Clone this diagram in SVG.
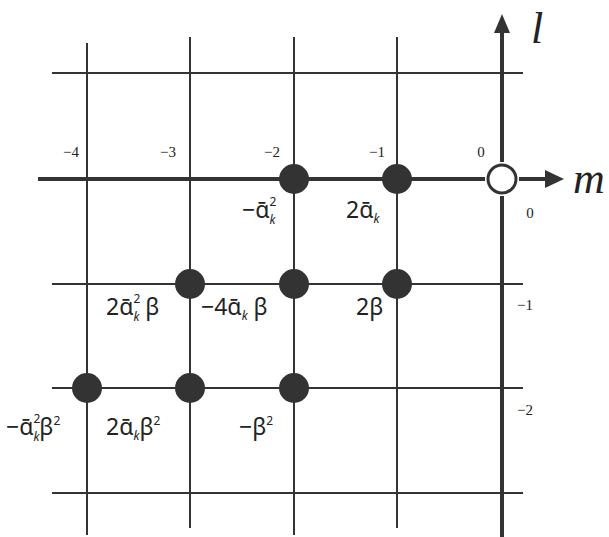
<svg xmlns="http://www.w3.org/2000/svg" width="609" height="537" viewBox="0 0 609 537">
<style>
.g{stroke:#333;stroke-width:2;fill:none}
.ax{stroke:#333;stroke-width:4;fill:none}
.dot{fill:#333}
.num{font-family:"Liberation Serif",serif;font-size:15px;fill:#222}
.lab{font-family:"Noto Sans","DejaVu Sans",sans-serif;font-size:23px;fill:#222}
.s{font-size:12px}
.k{font-size:12px;font-style:italic}
.ax-lab{font-family:"Liberation Serif",serif;font-style:italic;font-size:44px;fill:#222}
</style>
<rect width="609" height="537" fill="#fff"/>
<g id="connectors">
<line class="g" x1="52" y1="73" x2="523" y2="73"/>
<line class="g" x1="52" y1="284" x2="523" y2="284"/>
<line class="g" x1="52" y1="388" x2="523" y2="388"/>
<line class="g" x1="52" y1="493" x2="523" y2="493"/>
<line class="g" x1="87" y1="43" x2="87" y2="535"/>
<line class="g" x1="190" y1="37" x2="190" y2="528"/>
<line class="g" x1="294" y1="37" x2="294" y2="535"/>
<line class="g" x1="397" y1="37" x2="397" y2="528"/>
<line class="ax" x1="38" y1="179" x2="485" y2="179"/>
<path class="ax" d="M519,179 H546"/>
<path d="M545,170 L564,179 L545,188 z" fill="#333"/>
<line class="ax" x1="502" y1="537" x2="502" y2="196"/>
<line class="ax" x1="502" y1="162" x2="502" y2="32"/>
<path d="M494,33 L502,14 L510,33 z" fill="#333"/>
</g>
<g id="axis-labels">
<text class="ax-lab" x="573" y="193">m</text>
<text class="ax-lab" x="531" y="43">l</text>
<text class="num" x="71" y="157" text-anchor="middle">−4</text>
<text class="num" x="168" y="157" text-anchor="middle">−3</text>
<text class="num" x="272" y="157" text-anchor="middle">−2</text>
<text class="num" x="377" y="157" text-anchor="middle">−1</text>
<text class="num" x="481" y="157" text-anchor="middle">0</text>
<text class="num" x="530" y="218" text-anchor="middle">0</text>
<text class="num" x="525" y="310" text-anchor="middle">−1</text>
<text class="num" x="525" y="415" text-anchor="middle">−2</text>
</g>
<g id="origin"><circle cx="502" cy="179" r="14" fill="#fff" stroke="#333" stroke-width="3"/></g>
<g id="n-2-0"><circle class="dot" cx="294" cy="179" r="15"/>
<text class="lab" x="242" y="218">−ᾱ<tspan class="s" dy="-12">2</tspan><tspan class="k" dx="-7" dy="18">k</tspan></text></g>
<g id="n-1-0"><circle class="dot" cx="397" cy="179" r="15"/>
<text class="lab" x="346" y="218">2ᾱ<tspan class="k" dy="5">k</tspan></text></g>
<g id="n-3-1"><circle class="dot" cx="190" cy="284" r="15"/>
<text class="lab" x="106" y="315">2ᾱ<tspan class="s" dy="-12">2</tspan><tspan class="k" dx="-7" dy="18">k</tspan><tspan dy="-6"> β</tspan></text></g>
<g id="n-2-1"><circle class="dot" cx="294" cy="284" r="15"/>
<text class="lab" x="201" y="315">−4ᾱ<tspan class="k" dy="5">k</tspan><tspan dy="-5"> β</tspan></text></g>
<g id="n-1-1"><circle class="dot" cx="397" cy="284" r="15"/>
<text class="lab" x="356" y="315">2β</text></g>
<g id="n-4-2"><circle class="dot" cx="87" cy="388" r="15"/>
<text class="lab" x="6" y="435">−ᾱ<tspan class="s" dy="-12">2</tspan><tspan class="k" dx="-7" dy="18">k</tspan><tspan dy="-6">β</tspan><tspan class="s" dy="-10">2</tspan></text></g>
<g id="n-3-2"><circle class="dot" cx="190" cy="388" r="15"/>
<text class="lab" x="106" y="435">2ᾱ<tspan class="k" dy="5">k</tspan><tspan dy="-5">β</tspan><tspan class="s" dy="-10">2</tspan></text></g>
<g id="n-2-2"><circle class="dot" cx="294" cy="388" r="15"/>
<text class="lab" x="239" y="435">−β<tspan class="s" dy="-10">2</tspan></text></g>
</svg>
